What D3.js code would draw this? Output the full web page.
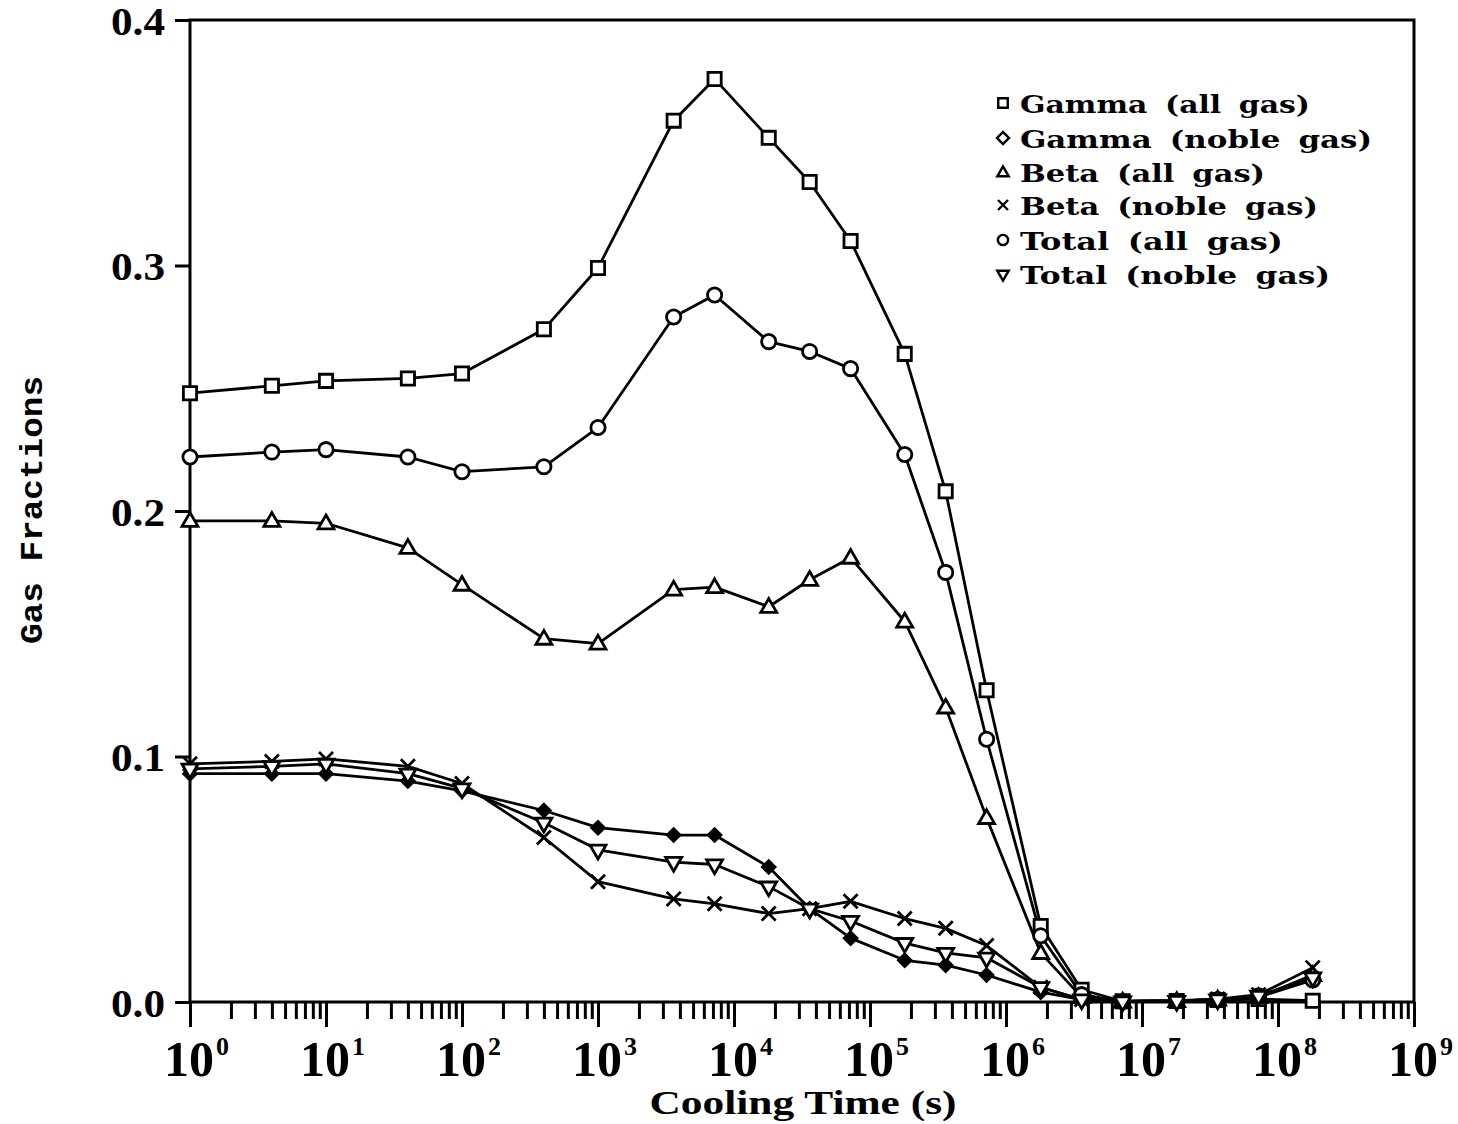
<!DOCTYPE html>
<html>
<head>
<meta charset="utf-8">
<script src="https://cdn.jsdelivr.net/npm/d3@7"></script>
<style>
html,body{margin:0;padding:0;background:#fff;}
svg{display:block;}
</style>
</head>
<body>
<svg id="chart" width="1458" height="1124"></svg>
<script>
// ---- data ----
const times = [1, 4, 10, 40, 100, 400, 1000, 3600, 7200, 18000, 36000, 72000, 180000, 360000, 720000, 1.8e6, 3.6e6, 7.2e6, 1.8e7, 3.6e7, 7.2e7, 1.8e8];
const gammaAll   = [0.248, 0.251, 0.253, 0.254, 0.256, 0.274, 0.299, 0.359, 0.376, 0.352, 0.334, 0.310, 0.264, 0.208, 0.127, 0.031, 0.005, 0.0003, 0.0004, 0.0008, 0.0012, 0.0005];
const gammaNoble = [0.093, 0.093, 0.093, 0.090, 0.086, 0.078, 0.071, 0.068, 0.068, 0.055, 0.038, 0.026, 0.017, 0.015, 0.011, 0.004, 0.001, 0.0002, 0.0004, 0.001, 0.002, 0.009];
const betaAll    = [0.196, 0.196, 0.195, 0.185, 0.170, 0.148, 0.146, 0.168, 0.169, 0.161, 0.172, 0.181, 0.155, 0.120, 0.075, 0.020, 0.002, 0.0002, 0.0004, 0.001, 0.002, 0.011];
const betaNoble  = [0.097, 0.098, 0.099, 0.096, 0.089, 0.067, 0.049, 0.042, 0.040, 0.036, 0.038, 0.041, 0.034, 0.030, 0.023, 0.006, 0.001, 0.0002, 0.0005, 0.0012, 0.003, 0.014];
const totalAll   = [0.222, 0.224, 0.225, 0.222, 0.216, 0.218, 0.234, 0.279, 0.288, 0.269, 0.265, 0.258, 0.223, 0.175, 0.107, 0.027, 0.003, 0.0002, 0.0004, 0.001, 0.0025, 0.009];
const totalNoble = [0.095, 0.096, 0.097, 0.093, 0.087, 0.073, 0.062, 0.057, 0.056, 0.047, 0.038, 0.033, 0.024, 0.020, 0.018, 0.006, 0.001, 0.0002, 0.0004, 0.001, 0.0025, 0.010];
const seriesNames = ["Gamma (all gas)", "Gamma (noble gas)", "Beta (all gas)", "Beta (noble gas)", "Total (all gas)", "Total (noble gas)"];
const yTicks = [0.0, 0.1, 0.2, 0.3, 0.4];
const yTickLabels = ["0.0", "0.1", "0.2", "0.3", "0.4"];
const xDecades = [0, 1, 2, 3, 4, 5, 6, 7, 8, 9];
const xTitle = "Cooling Time (s)";
const yTitle = "Gas Fractions";

// ---- setup ----
const svg = d3.select("#chart");
svg.append("rect").attr("width", 1458).attr("height", 1124).attr("fill", "#fff");
const L = 190, R = 1414, T = 20, B = 1002;
const x = d3.scaleLog().domain([1, 1e9]).range([L, R]);
const y = d3.scaleLinear().domain([0, 0.4]).range([B, T]);

const series = [
  {name: seriesNames[0], values: gammaAll,   sym: "square"},
  {name: seriesNames[1], values: gammaNoble, sym: "diamond"},
  {name: seriesNames[2], values: betaAll,    sym: "triangle"},
  {name: seriesNames[3], values: betaNoble,  sym: "times"},
  {name: seriesNames[4], values: totalAll,   sym: "circle"},
  {name: seriesNames[5], values: totalNoble, sym: "tridown"}
];

function symPath(kind, scale) {
  const s = scale || 1;
  switch (kind) {
    case "square":   return d3.symbol(d3.symbolSquare, 175 * s * s)();
    case "diamond":  return d3.symbol(d3.symbolSquare, 80 * s * s)();
    case "triangle": return d3.symbol(d3.symbolTriangle, 110 * s * s)();
    case "times":    return d3.symbol(d3.symbolTimes, 130 * s * s)();
    case "circle":   return d3.symbol(d3.symbolCircle, 160 * s * s)();
    case "tridown":  return d3.symbol(d3.symbolTriangle, 110 * s * s)();
  }
}
function symTransform(kind) {
  if (kind === "tridown") return " rotate(180)";
  if (kind === "diamond") return " rotate(45)";
  if (kind === "triangle") return " translate(0,1)";
  return "";
}

// ---- frame ----
const frame = svg.append("g").attr("stroke", "#000").attr("stroke-width", 3).attr("fill", "none");
frame.append("path").attr("d", `M${L},${B} V${T} H${R} V${B} Z`);

// y axis ticks
const yAxis = d3.axisLeft(y).tickValues(yTicks).tickSize(15).tickFormat((d, i) => yTickLabels[i]).tickPadding(10);
const gy = svg.append("g").attr("transform", `translate(${L},0)`).call(yAxis);
gy.select(".domain").remove();
gy.selectAll(".tick line").attr("stroke", "#000").attr("stroke-width", 3);
gy.selectAll(".tick text")
  .attr("font-family", "'Liberation Serif', serif").attr("font-weight", "bold")
  .attr("font-size", 40).attr("fill", "#000").attr("dy", "0.36em")
  .attr("textLength", 54).attr("lengthAdjust", "spacingAndGlyphs");

// x axis ticks (log minor + decade majors)
const minorVals = [];
for (let e = 0; e < 9; e++) for (let m = 2; m <= 9; m++) minorVals.push(m * Math.pow(10, e));
const gxMinor = svg.append("g").attr("transform", `translate(0,${B})`)
  .call(d3.axisBottom(x).tickValues(minorVals).tickSize(17).tickFormat(""));
gxMinor.select(".domain").remove();
gxMinor.selectAll(".tick line").attr("stroke", "#000").attr("stroke-width", 3);
const gxMajor = svg.append("g").attr("transform", `translate(0,${B})`)
  .call(d3.axisBottom(x).tickValues(xDecades.map(e => Math.pow(10, e))).tickSize(25).tickFormat(""));
gxMajor.select(".domain").remove();
gxMajor.selectAll(".tick line").attr("stroke", "#000").attr("stroke-width", 3);

// decade labels 10^n
const xl = svg.append("g");
xDecades.forEach(e => {
  const t = xl.append("text")
    .attr("x", x(Math.pow(10, e)) - 26).attr("y", 1076)
    .attr("font-family", "'Liberation Serif', serif").attr("font-weight", "bold")
    .attr("font-size", 50).attr("fill", "#000");
  t.append("tspan").text("10");
  t.append("tspan").attr("font-size", 26).attr("dy", -21).attr("dx", 2).text(String(e));
});

// axis titles
svg.append("text").attr("x", 803).attr("y", 1114).attr("text-anchor", "middle")
  .attr("font-family", "'Liberation Serif', serif").attr("font-weight", "bold")
  .attr("font-size", 34).attr("textLength", 307).attr("lengthAdjust", "spacingAndGlyphs").text(xTitle);
svg.append("text").attr("transform", "translate(42,510) rotate(-90)").attr("text-anchor", "middle")
  .attr("font-family", "'Liberation Mono', monospace").attr("font-weight", "bold")
  .attr("font-size", 32).attr("textLength", 268).attr("lengthAdjust", "spacingAndGlyphs").text(yTitle);

// ---- lines ----
const line = d3.line().x(d => x(d[0])).y(d => y(d[1]));
const gl = svg.append("g");
series.forEach(s => {
  gl.append("path").datum(times.map((t, i) => [t, s.values[i]]))
    .attr("d", line).attr("fill", "none").attr("stroke", "#000").attr("stroke-width", 2.8)
    .attr("stroke-linejoin", "round");
});

// ---- markers ----
const gm = svg.append("g");
series.forEach(s => {
  gm.selectAll(null).data(times.map((t, i) => [t, s.values[i]])).enter().append("path")
    .attr("d", symPath(s.sym))
    .attr("transform", d => `translate(${x(d[0])},${y(d[1])})` + symTransform(s.sym))
    .attr("fill", s.sym === "diamond" ? "#000" : "#fff")
    .attr("stroke", "#000").attr("stroke-width", 2.8);
});

// ---- legend ----
const legY = [104, 139, 173, 206, 241, 275];
const legEnd = [1310, 1372, 1265, 1318, 1283, 1330];
const lg = svg.append("g");
series.forEach((s, i) => {
  lg.append("path").attr("d", symPath(s.sym, s.sym === "diamond" ? 0.95 : 0.72))
    .attr("transform", `translate(1003,${legY[i] - 1})` + symTransform(s.sym))
    .attr("fill", "#fff").attr("stroke", "#000").attr("stroke-width", 2.4);
  lg.append("text").attr("x", 1020).attr("y", legY[i] + 9)
    .attr("font-family", "'DejaVu Serif', serif").attr("font-weight", "bold")
    .attr("font-size", 25).attr("word-spacing", 6)
    .attr("textLength", legEnd[i] - 1020).attr("lengthAdjust", "spacingAndGlyphs")
    .text(s.name);
});
</script>
</body>
</html>
